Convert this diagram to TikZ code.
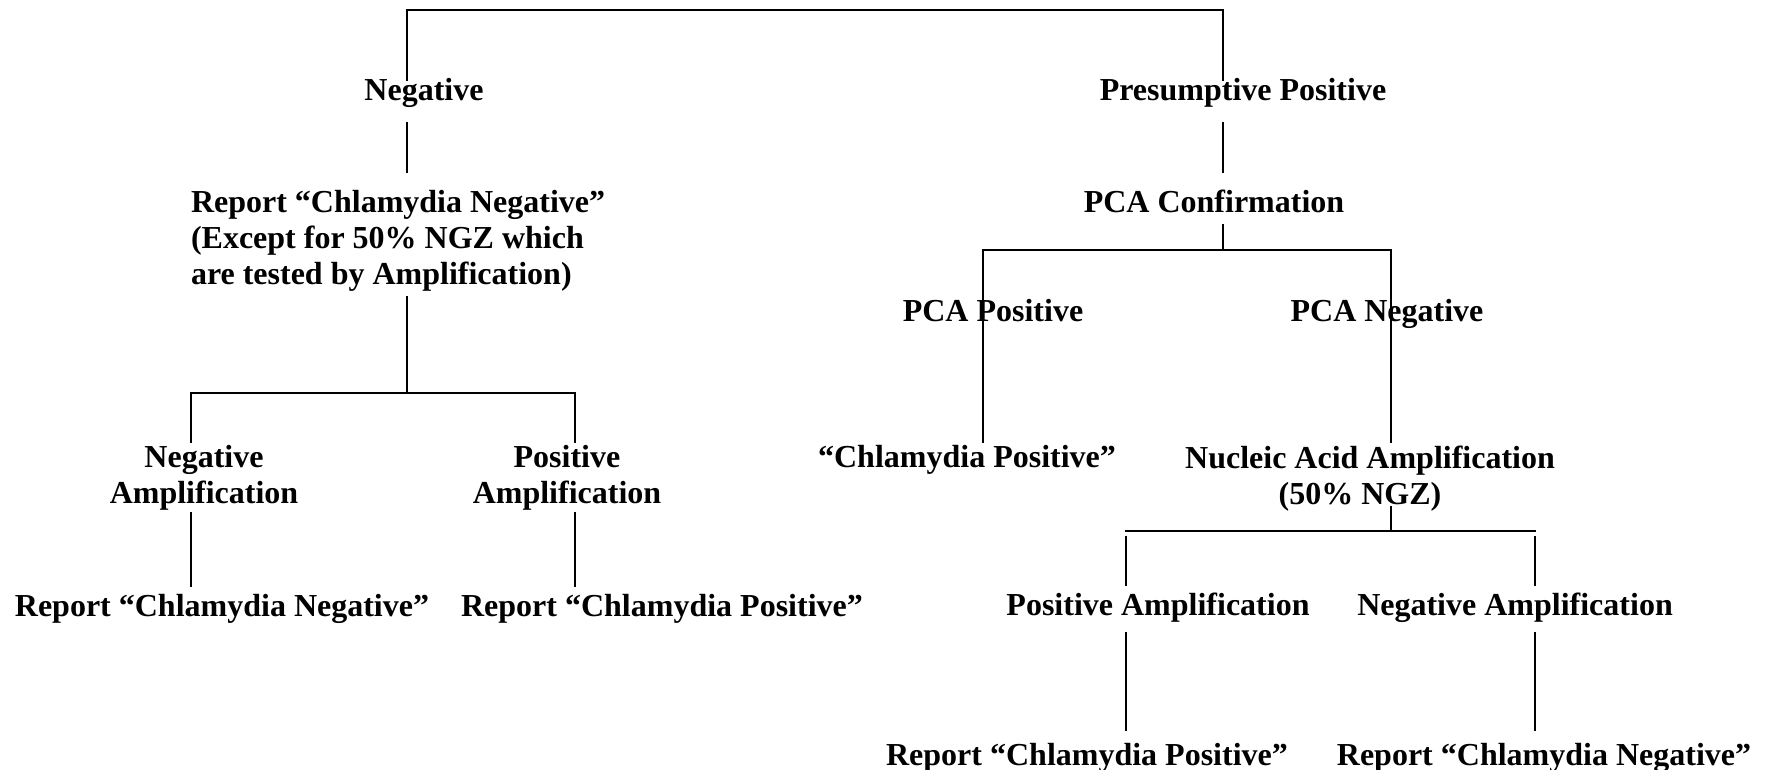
\documentclass[tikz,border=0pt]{standalone}
\usepackage{fontspec}
\setmainfont{Liberation Serif}
\begin{document}
\begin{tikzpicture}[x=0.75pt,y=-0.75pt,
  lbl/.style={inner sep=0pt,outer sep=0pt,anchor=base,font=\bfseries\fontsize{24}{27}\selectfont},
  conn/.style={line width=1.5pt,line join=miter,line cap=rect}]
\useasboundingbox (0,0) rectangle (1765,769);
% ---------- text nodes ----------
\node[lbl] (neg) at (424,100) {Negative};
\node[lbl] (pp) at (1243,100) {Presumptive Positive};
\node[lbl,anchor=base west] (rep) at (191,212) {\begin{tabular}[t]{@{}l@{}}Report “Chlamydia Negative”\\(Except for 50\% NGZ which\\are tested by Amplification)\end{tabular}};
\node[lbl] (pcac) at (1214,212) {PCA Confirmation};
\node[lbl] (pcap) at (993,321) {PCA Positive};
\node[lbl] (pcan) at (1387,321) {PCA Negative};
\node[lbl] (nampL) at (204,467) {\begin{tabular}[t]{@{}c@{}}Negative\\Amplification\end{tabular}};
\node[lbl] (pampL) at (567,467) {\begin{tabular}[t]{@{}c@{}}Positive\\Amplification\end{tabular}};
\node[lbl] (chp) at (967,467) {“Chlamydia Positive”};
\node[lbl] (naa) at (1370,468) {\begin{tabular}[t]{@{}c@{}}Nucleic Acid Amplification\\(50\% NGZ)\hspace*{15pt}\end{tabular}};
\node[lbl] (rcnL) at (222,616) {Report “Chlamydia Negative”};
\node[lbl] (rcpL) at (662,616) {Report “Chlamydia Positive”};
\node[lbl] (pampR) at (1158,615) {Positive Amplification};
\node[lbl] (nampR) at (1515,615) {Negative Amplification};
\node[lbl] (rcpR) at (1087,765) {Report “Chlamydia Positive”};
\node[lbl] (rcnR) at (1544,765) {Report “Chlamydia Negative”};
% ---------- junction coordinates ----------
\coordinate (negT) at (407,80);
\coordinate (ppT) at (1223,80);
\coordinate (negB) at (407,123);
\coordinate (repT) at (407,172);
\coordinate (ppB) at (1223,123);
\coordinate (pcacT) at (1223,172);
\coordinate (repB) at (407,297);
\coordinate (brL) at (407,393);
\coordinate (nampLT) at (191,442);
\coordinate (pampLT) at (575,442);
\coordinate (nampLB) at (191,513);
\coordinate (rcnLT) at (191,586);
\coordinate (pampLB) at (575,513);
\coordinate (rcpLT) at (575,586);
\coordinate (pcacB) at (1223,225);
\coordinate (brP) at (1223,250);
\coordinate (chpT) at (983,442);
\coordinate (naaT) at (1391,442);
\coordinate (naaB) at (1391,507);
\coordinate (brN) at (1391,531);
\coordinate (pampRT) at (1126,585);
\coordinate (nampRT) at (1535,585);
\coordinate (pampRB) at (1126,633);
\coordinate (rcpRT) at (1126,730);
\coordinate (nampRB) at (1535,633);
\coordinate (rcnRT) at (1535,730);
% ---------- connectors ----------
\draw[conn] (negT) -- (407,9.5) -- (1223,9.5) -- (ppT);
\draw[conn] (negB) -- (repT);
\draw[conn] (ppB) -- (pcacT);
\draw[conn] (repB) -- (brL);
\draw[conn] (nampLT) |- (brL) -| (pampLT);
\draw[conn] (nampLB) -- (rcnLT);
\draw[conn] (pampLB) -- (rcpLT);
\draw[conn] (pcacB) -- (brP);
\draw[conn] (chpT) |- (brP) -| (naaT);
\draw[conn] (naaB) -- (brN);
\draw[conn] (pampRT |- brN) -- (nampRT |- brN);
\draw[conn] (1126,537) -- (pampRT);
\draw[conn] (1535,537) -- (nampRT);
\draw[conn] (pampRB) -- (rcpRT);
\draw[conn] (nampRB) -- (rcnRT);
\end{tikzpicture}
\end{document}
